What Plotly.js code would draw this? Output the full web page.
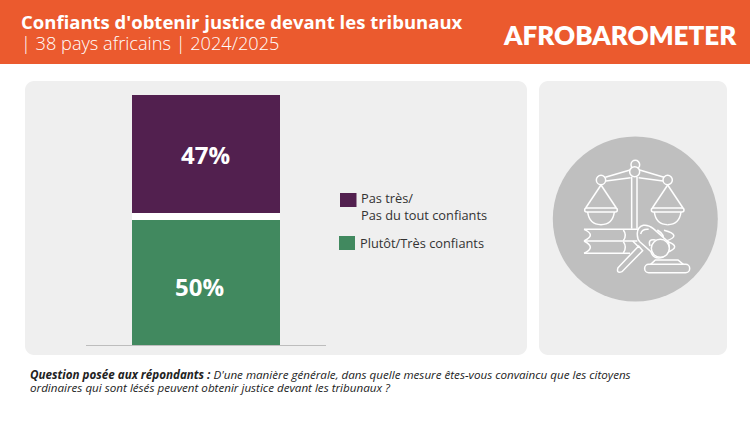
<!DOCTYPE html>
<html><head><meta charset="utf-8">
<script src="https://cdn.plot.ly/plotly-3.0.1.min.js"></script>
<style>html,body{margin:0;padding:0;background:#fff}#c{width:750px;height:422px}</style></head>
<body><div id="c"></div>
<script>
const category = ['Confiance'];
const seriesNames = ['Plutôt/Très confiants', 'Pas très/<br>Pas du tout confiants'];
const lowValue = [50];
const highValue = [47];
const titleLine = "Confiants d'obtenir justice devant les tribunaux";
const subtitleLine = '| 38 pays africains | 2024/2025';
const brand = 'AFROBAROMETER';
const questionLead = 'Question posée aux répondants :';
const questionLine1 = " D'une manière générale, dans quelle mesure êtes-vous convaincu que les citoyens";
const questionLine2 = 'ordinaires qui sont lésés peuvent obtenir justice devant les tribunaux ?';
const colGreen = '#41895F', colPurple = '#52204F', colOrange = '#EB5A2E', colPanel = '#EFEFEF', colCircle = '#BFBFBF';

const W = 750, H = 422;
const fx = x => x / W, fy = y => 1 - y / H;
const P = (x, y) => fx(x).toFixed(5) + ',' + fy(y).toFixed(5);
function rr(x0, y0, x1, y1, r) {
  const k = r * 0.45;
  return 'M' + P(x0 + r, y0) + ' L' + P(x1 - r, y0) + ' C' + P(x1 - k, y0) + ' ' + P(x1, y0 + k) + ' ' + P(x1, y0 + r) +
    ' L' + P(x1, y1 - r) + ' C' + P(x1, y1 - k) + ' ' + P(x1 - k, y1) + ' ' + P(x1 - r, y1) +
    ' L' + P(x0 + r, y1) + ' C' + P(x0 + k, y1) + ' ' + P(x0, y1 - k) + ' ' + P(x0, y1 - r) +
    ' L' + P(x0, y0 + r) + ' C' + P(x0, y0 + k) + ' ' + P(x0 + k, y0) + ' ' + P(x0 + r, y0) + ' Z';
}
const base = {xref: 'paper', yref: 'paper', layer: 'below'};
const fillShape = (path, color) => ({...base, type: 'path', path, fillcolor: color, line: {width: 0}});
const rect = (x0, y0, x1, y1, color) => ({...base, type: 'rect', x0: fx(x0), x1: fx(x1), y0: fy(y0), y1: fy(y1), fillcolor: color, line: {width: 0}});
const circ = (cx, cy, r, fill, stroke, w) => ({...base, type: 'circle', x0: fx(cx - r), x1: fx(cx + r), y0: fy(cy + r), y1: fy(cy - r), fillcolor: fill, line: {width: w || 0, color: stroke || fill}});

// icon drawn in the zoomed-crop frame
const zx = x => 540 + x / 3, zy = y => 120 + y / 3;
const Z = (x, y) => P(zx(x), zy(y));
const ic = '#FFFFFF', lw = 1.5;
const stroke = path => ({...base, type: 'path', path, line: {color: ic, width: lw}, fillcolor: 'rgba(0,0,0,0)'});
const zl = (...pts) => stroke(pts.map((p, i) => (i ? 'L' : 'M') + Z(p[0], p[1])).join(' '));
const zq = (a, c, b) => stroke('M' + Z(a[0], a[1]) + ' Q' + Z(c[0], c[1]) + ' ' + Z(b[0], b[1]));
const zc = (cx, cy, r, fill) => circ(zx(cx), zy(cy), r / 3, fill || colCircle, ic, lw);
const zr = (x0, y0, x1, y1, r) => {
  const a = rr(zx(x0), zy(y0), zx(x1), zy(y1), r / 3);
  return {...base, type: 'path', path: a, fillcolor: colCircle, line: {color: ic, width: lw}};
};
function pan(cx) {
  return [
    zl([cx, 195], [cx - 46, 264]), zl([cx, 195], [cx + 46, 264]),
    zr(cx - 49, 264, cx + 49, 276, 6),
    zq([cx - 40, 276], [cx - 35, 314], [cx, 314]), zq([cx + 40, 276], [cx + 35, 314], [cx, 314])
  ];
}
const africa = 'M' + P(556.5, 31) + ' L' + P(560, 29) + ' L' + P(563, 30) + ' L' + P(564.5, 32) + ' L' + P(567.5, 32.5) +
  ' L' + P(566, 36) + ' L' + P(563.5, 38.5) + ' L' + P(562.5, 42) + ' L' + P(560, 38) + ' L' + P(559.5, 36) + ' L' + P(557, 35) + ' Z';

const icon = [
  zl([275, 170], [275, 326]), zl([291, 170], [291, 326]),
  zl([196, 172], [270, 150]), zl([198, 183], [272, 173]),
  zl([372, 172], [299, 150]), zl([369, 183], [296, 173]),
  zc(286, 134, 13), zc(284, 155, 15), zc(183, 180, 14), zc(383, 180, 14),
  ...pan(183), ...pan(383),
  // books
  zl([132, 328], [300, 328]), zl([132, 363], [292, 363]), zl([132, 400], [270, 400]),
  zq([132, 328], [170, 345], [132, 363]), zq([132, 363], [170, 382], [132, 400]),
  zq([250, 330], [262, 346], [250, 362]), zq([250, 365], [262, 382], [250, 399]),
  zl([278, 363], [297, 382]),
  zq([372, 331], [428, 346], [378, 363]), zq([380, 364], [428, 380], [380, 398]),
  zq([352, 330], [376, 345], [368, 360]),
  // base
  zr(314, 433, 449, 458, 12),
  zl([332, 433], [346, 420], [414, 420], [430, 433]),
  // handle
  stroke('M' + Z(234, 443) + ' L' + Z(296, 378) + ' L' + Z(308, 392) + ' L' + Z(246, 455) + ' Q' + Z(228, 462) + ' ' + Z(234, 443) + ' Z'),
  // head
  {...base, type: 'path', path: 'M' + Z(292, 345) + ' Q' + Z(290, 322) + ' ' + Z(310, 316) + ' Q' + Z(326, 314) + ' ' + Z(340, 326) +
    ' L' + Z(385, 366) + ' Q' + Z(395, 395) + ' ' + Z(368, 412) + ' Q' + Z(340, 420) + ' ' + Z(332, 394) + ' L' + Z(300, 366) + ' Q' + Z(292, 358) + ' ' + Z(292, 345) + ' Z', fillcolor: colCircle, line: {color: ic, width: lw}},
  zc(361, 385, 27),
  zq([330, 378], [322, 355], [347, 360]),
  zq([302, 342], [306, 326], [326, 328])
];

const shapes = [
  rect(0, 0, 750, 64, colOrange),
  fillShape(rr(25, 81, 527, 355, 9), colPanel),
  fillShape(rr(539, 81, 727, 355, 9), colPanel),
  rect(132, 213, 280, 220, '#FFFFFF'),
  circ(635.3, 219, 82.5, colCircle),
  ...icon,
  fillShape(africa, colOrange),
  rect(340, 193, 356.5, 207, colPurple),
  rect(339, 236, 355, 250, colGreen)
];
const headFont = 'Open Sans, sans-serif';
const note = (x, y, text, size, color, extra) => ({xref: 'paper', yref: 'paper', x: fx(x), y: fy(y), text, showarrow: false,
  xanchor: 'left', yanchor: 'middle', align: 'left', font: {family: headFont, size, color, ...(extra || {})}});
const pct = (v, yref, xshift, yshift) => ({xref: 'x', yref, x: category[0], y: v / 2, text: v + '%', showarrow: false, xshift, yshift,
  font: {family: headFont, size: 24, color: '#fff', weight: 700}});
const annotations = [
  note(18.5, 22, titleLine, 18.5, '#fff', {weight: 700}),
  note(18.5, 43, subtitleLine, 18.2, '#fff', {weight: 300}),
  note(501, 35, brand, 26, '#fff', {weight: 800, family: 'Lato, sans-serif'}),
  note(359, 206, seriesNames[1], 12.8, '#333', {}),
  note(358, 243, seriesNames[0], 12.8, '#333', {}),
  note(28, 374, '<b><i>' + questionLead + '</i></b><i>' + questionLine1 + '</i>', 11.63, '#222', {}),
  note(28, 387, '<i>' + questionLine2 + '</i>', 11.63, '#222', {}),
  pct(highValue[0], 'y2', -1, 0),
  pct(lowValue[0], 'y', -7, -3.5)
];
const barCommon = {textposition: 'none', hoverinfo: 'skip', width: 148 / 240};
const traces = [
  {type: 'bar', x: category, y: lowValue, name: seriesNames[0], xaxis: 'x', yaxis: 'y', marker: {color: colGreen}, ...barCommon},
  {type: 'bar', x: category, y: highValue, name: seriesNames[1], xaxis: 'x', yaxis: 'y2', marker: {color: colPurple}, ...barCommon}
];
const layout = {
  width: W, height: H, margin: {l: 0, r: 0, t: 0, b: 0}, showlegend: false, paper_bgcolor: '#fff', plot_bgcolor: 'rgba(0,0,0,0)',
  xaxis: {domain: [fx(86), fx(326)], range: [-0.5, 0.5], type: 'category', showticklabels: false, ticks: '', showgrid: false, zeroline: false, showline: true, linecolor: '#BDBDBD', linewidth: 1, anchor: 'y'},
  yaxis: {domain: [fy(345), fy(220)], range: [0, lowValue[0]], showticklabels: false, ticks: '', showgrid: false, zeroline: false, anchor: 'x'},
  yaxis2: {domain: [fy(213), fy(95)], range: [0, highValue[0]], showticklabels: false, ticks: '', showgrid: false, zeroline: false, anchor: 'x'},
  shapes, annotations
};
Plotly.newPlot('c', traces, layout, {displayModeBar: false, staticPlot: true});
</script></body></html>
